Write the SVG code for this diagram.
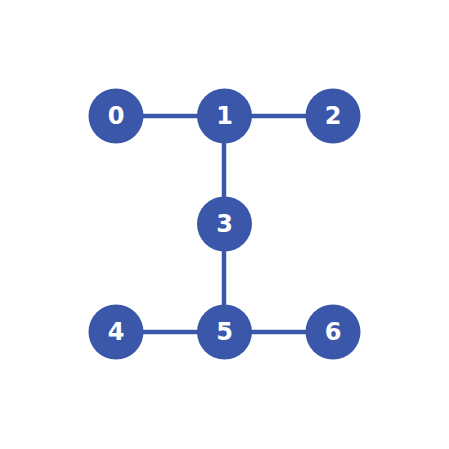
<svg xmlns="http://www.w3.org/2000/svg" width="449" height="449" viewBox="0 0 449 449">
<style>
.n circle{fill:#3b57a9}
.n text{fill:#fff;font-family:"DejaVu Sans",sans-serif;font-weight:bold;font-size:24px;text-anchor:middle;dominant-baseline:central}
.e line{stroke:#3b57a9;stroke-width:4.5}
</style>
<rect width="449" height="449" fill="#fff"/>
<g id="edges" class="e">
<line x1="116" y1="116" x2="224" y2="116"/>
<line x1="224" y1="116" x2="333" y2="116"/>
<line x1="224" y1="116" x2="224" y2="224"/>
<line x1="224" y1="224" x2="224" y2="332"/>
<line x1="116" y1="332" x2="224" y2="332"/>
<line x1="224" y1="332" x2="333" y2="332"/>
</g>
<g id="node0" class="n"><circle cx="116" cy="116" r="27.5"/><text x="116" y="116">0</text></g>
<g id="node1" class="n"><circle cx="224.5" cy="116" r="27.5"/><text x="224.5" y="116">1</text></g>
<g id="node2" class="n"><circle cx="333" cy="116" r="27.5"/><text x="333" y="116">2</text></g>
<g id="node3" class="n"><circle cx="224.5" cy="224" r="27.5"/><text x="224.5" y="224">3</text></g>
<g id="node4" class="n"><circle cx="116" cy="332" r="27.5"/><text x="116" y="332">4</text></g>
<g id="node5" class="n"><circle cx="224.5" cy="332" r="27.5"/><text x="224.5" y="332">5</text></g>
<g id="node6" class="n"><circle cx="333" cy="332" r="27.5"/><text x="333" y="332">6</text></g>
</svg>
